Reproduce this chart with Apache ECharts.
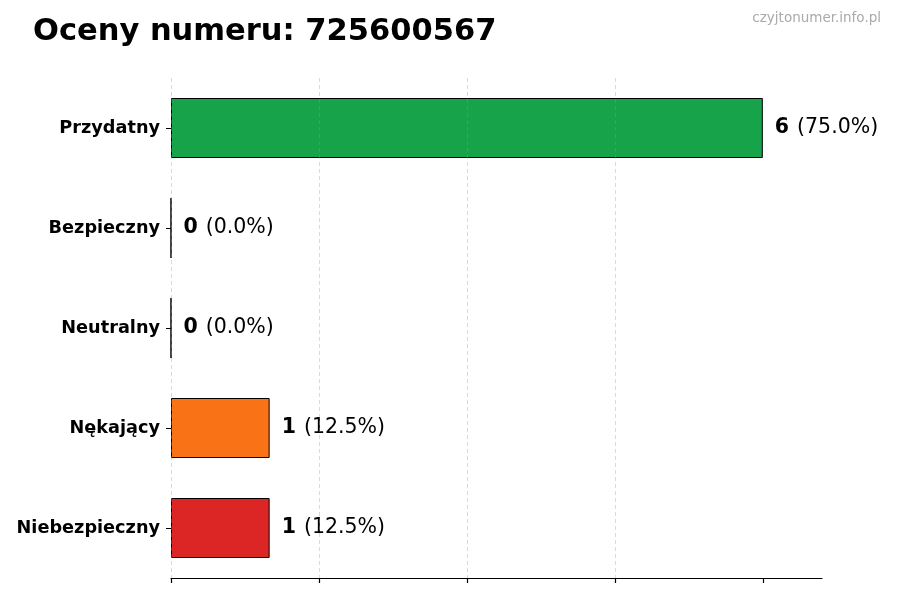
<!DOCTYPE html>
<html>
<head>
<meta charset="utf-8">
<script src="https://cdn.jsdelivr.net/npm/echarts@6/dist/echarts.min.js"></script>
<style>
  html, body { margin: 0; padding: 0; background: #fff; }
  #main { width: 900px; height: 600px; }
</style>
</head>
<body>
<div id="main"></div>
<script>
// dane wykresu
var categories = ['Przydatny', 'Bezpieczny', 'Neutralny', 'Nękający', 'Niebezpieczny'];
var counts = [6, 0, 0, 1, 1];
var barColors = ['#16a34a', '#2563eb', '#6b7280', '#f97316', '#dc2626'];
var xTicks = [0, 1.5, 3, 4.5, 6];

var total = counts.reduce(function (a, b) { return a + b; }, 0);

var myChart = echarts.init(document.getElementById('main'));
var option = {
    backgroundColor: '#fff',
    animation: false,
    title: [{
        text: 'Oceny numeru: 725600567',
        left: 33,
        top: 17,
        padding: 0,
        textStyle: {
            fontFamily: 'DejaVu Sans',
            fontSize: 30.5,
            fontWeight: 'bold',
            color: '#000'
        }
    }, {
        text: 'czyjtonumer.info.pl',
        right: 19,
        top: 11,
        padding: 0,
        textStyle: {
            fontFamily: 'DejaVu Sans',
            fontSize: 13.5,
            fontWeight: 'normal',
            color: '#aaaaaa'
        }
    }],
    grid: {
        left: 171,
        right: 78,
        top: 78,
        bottom: 22
    },
    xAxis: {
        type: 'value',
        min: 0,
        max: 6.6,
        interval: 1.5,
        z: 5,
        axisLine: { show: true, lineStyle: { color: '#000', width: 1.2 } },
        axisTick: { show: true, length: 5, customValues: xTicks, lineStyle: { color: '#000', width: 1.2 } },
        axisLabel: { show: false },
        splitLine: {
            show: true,
            showMaxLine: false,
            lineStyle: { color: 'rgba(150,150,150,0.45)', type: [4, 3], width: 0.8 }
        }
    },
    yAxis: {
        type: 'category',
        inverse: true,
        data: categories,
        axisLine: { show: false },
        axisTick: { show: true, alignWithLabel: true, length: 5, lineStyle: { color: '#000', width: 1 } },
        axisLabel: {
            margin: 11,
            padding: [9, 0, 0, 0],
            fontFamily: 'DejaVu Sans',
            fontSize: 17.7,
            fontWeight: 'bold',
            color: '#000'
        }
    },
    series: [{
        type: 'bar',
        barWidth: 60,
        data: counts.map(function (v, i) {
            return { value: v, itemStyle: { color: barColors[i] } };
        }),
        itemStyle: { borderColor: '#000', borderWidth: 1 },
        label: {
            show: true,
            position: 'right',
            distance: 12,
            formatter: function (p) {
                var pct = (p.value / total * 100).toFixed(1);
                return '{b|' + p.value + '}{n|(' + pct + '%)}';
            },
            rich: {
                b: { fontFamily: 'DejaVu Sans', fontSize: 20.5, fontWeight: 'bold', color: '#000', padding: [0, 8, 0, 0] },
                n: { fontFamily: 'DejaVu Sans', fontSize: 20.5, fontWeight: 'normal', color: '#000' }
            }
        }
    }]
};
myChart.setOption(option);
</script>
</body>
</html>
